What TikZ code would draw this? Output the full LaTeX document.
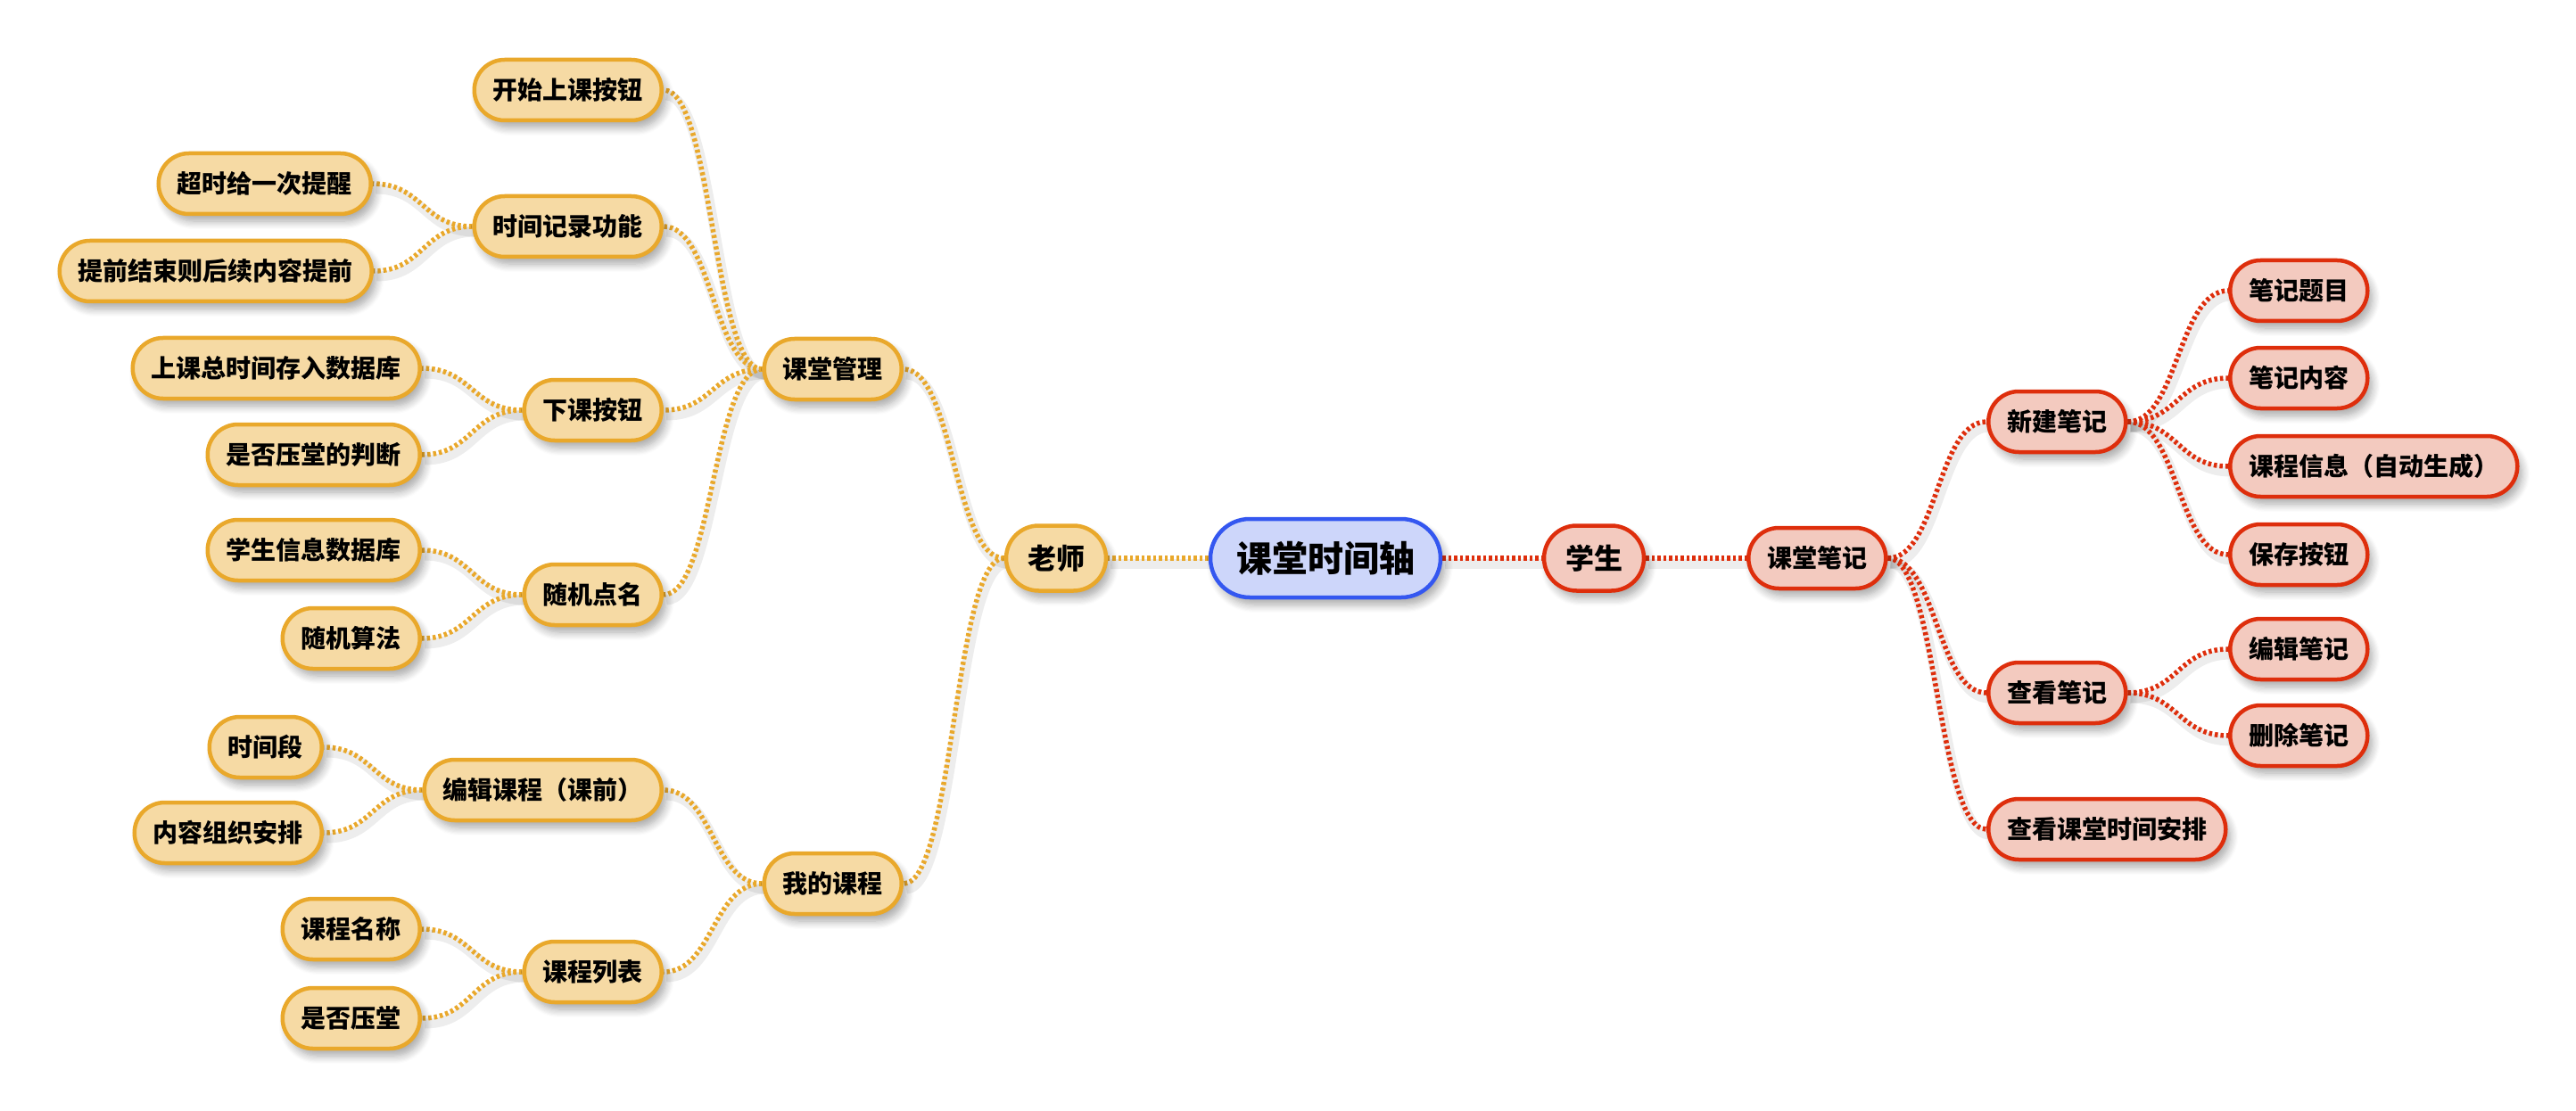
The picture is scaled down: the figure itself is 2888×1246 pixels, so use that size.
\documentclass[tikz,border=0pt]{standalone}
\usepackage{fontspec}
\newfontfamily\cjk{Noto Sans CJK SC}
\usetikzlibrary{calc,shadows.blur}
\definecolor{ob}{HTML}{E9A82B}
\definecolor{of}{HTML}{F6DAA4}
\definecolor{rb}{HTML}{DE2E0C}
\definecolor{rf}{HTML}{F3CABF}
\definecolor{bb}{HTML}{3457F0}
\definecolor{bf}{HTML}{CDD6FA}
\pgfdeclarelayer{background}
\pgfsetlayers{background,main}
\newcommand\conn[3]{%
  \draw[shadowline] let \p1=(#2), \p2=(#3), \p3=($(\p1)!0.5!(\p2)$) in
    ([shift={(3pt,-6pt)}]\p1) .. controls ([shift={(3pt,-6pt)}]\x3,\y1) and ([shift={(3pt,-6pt)}]\x3,\y2) .. ([shift={(3pt,-6pt)}]\p2);
  \draw[#1] let \p1=(#2), \p2=(#3), \p3=($(\p1)!0.5!(\p2)$) in
    (\p1) .. controls (\x3,\y1) and (\x3,\y2) .. (\p2);}
\begin{document}
\begin{tikzpicture}[x=1pt,y=-1pt,
  base/.style={line width=4.5pt, inner ysep=0pt,
    blur shadow={shadow xshift=5pt, shadow yshift=-8pt, shadow blur steps=8, shadow blur radius=9pt, shadow opacity=35}},
  nbox/.style={base, rounded corners=34pt, minimum height=68pt, inner xsep=21pt,
    font=\cjk\bfseries\fontsize{28}{30}\selectfont},
  obox/.style={nbox, draw=ob, fill=of},
  rbox/.style={nbox, draw=rb, fill=rf},
  lone/.style={base, rounded corners=36.5pt, minimum height=73pt, inner xsep=24pt,
    font=\cjk\bfseries\fontsize{32}{34}\selectfont},
  rootbox/.style={base, draw=bb, fill=bf, rounded corners=44pt, minimum height=88pt, inner xsep=29pt,
    font=\cjk\bfseries\fontsize{40}{42}\selectfont},
  oline/.style={draw=ob, line width=5.5pt, dash pattern=on 3.5pt off 3pt},
  rline/.style={draw=rb, line width=5.5pt, dash pattern=on 3.5pt off 3pt},
  shadowline/.style={draw=black, opacity=0.07, line width=11pt},
]
\useasboundingbox (0,0) rectangle (2888,1246);
% centre
\node[rootbox] (root) at (1486,626) {课堂时间轴};
\node[lone, draw=ob, fill=of] (ls) at (1184,626) {老师};
\node[lone, draw=rb, fill=rf] (xs) at (1787,626) {学生};
% right side
\node[rbox, anchor=west] (ktbj) at (1958,626) {课堂笔记};
\node[rbox, anchor=west] (xjbj) at (2227,473) {新建笔记};
\node[rbox, anchor=west] (ckbj) at (2227,777) {查看笔记};
\node[rbox, anchor=west] (cksj) at (2227,930) {查看课堂时间安排};
\node[rbox, anchor=west] (bjtm) at (2498,326) {笔记题目};
\node[rbox, anchor=west] (bjnr) at (2498,424) {笔记内容};
\node[rbox, anchor=west] (kcxx) at (2498,523) {课程信息（自动生成）};
\node[rbox, anchor=west] (bcan) at (2498,622) {保存按钮};
\node[rbox, anchor=west] (bjbj) at (2498,728) {编辑笔记};
\node[rbox, anchor=west] (scbj) at (2498,825) {删除笔记};
% left side
\node[obox, anchor=east] (ktgl) at (1013,414) {课堂管理};
\node[obox, anchor=east] (wdkc) at (1013,991) {我的课程};
\node[obox, anchor=east] (ksan) at (744,101) {开始上课按钮};
\node[obox, anchor=east] (sjjl) at (744,254) {时间记录功能};
\node[obox, anchor=east] (xkan) at (744,460) {下课按钮};
\node[obox, anchor=east] (sjdm) at (744,667) {随机点名};
\node[obox, anchor=east] (bjkc) at (744,886) {编辑课程（课前）};
\node[obox, anchor=east] (kclb) at (744,1090) {课程列表};
\node[obox, anchor=east] (cstx) at (418,206) {超时给一次提醒};
\node[obox, anchor=east] (tqjs) at (419,304) {提前结束则后续内容提前};
\node[obox, anchor=east] (sksj) at (473,413) {上课总时间存入数据库};
\node[obox, anchor=east] (sfyt) at (473,510) {是否压堂的判断};
\node[obox, anchor=east] (xsxx) at (473,617) {学生信息数据库};
\node[obox, anchor=east] (sjsf) at (473,716) {随机算法};
\node[obox, anchor=east] (sjd) at (363,838) {时间段};
\node[obox, anchor=east] (nrzz) at (363,934) {内容组织安排};
\node[obox, anchor=east] (kcmc) at (473,1042) {课程名称};
\node[obox, anchor=east] (sfy) at (473,1142) {是否压堂};
\begin{pgfonlayer}{background}
\conn{oline}{root.west}{ls.east}
\conn{rline}{root.east}{xs.west}
\conn{rline}{xs.east}{ktbj.west}
\conn{rline}{ktbj.east}{xjbj.west}
\conn{rline}{ktbj.east}{ckbj.west}
\conn{rline}{ktbj.east}{cksj.west}
\conn{rline}{xjbj.east}{bjtm.west}
\conn{rline}{xjbj.east}{bjnr.west}
\conn{rline}{xjbj.east}{kcxx.west}
\conn{rline}{xjbj.east}{bcan.west}
\conn{rline}{ckbj.east}{bjbj.west}
\conn{rline}{ckbj.east}{scbj.west}
\conn{oline}{ls.west}{ktgl.east}
\conn{oline}{ls.west}{wdkc.east}
\conn{oline}{ktgl.west}{ksan.east}
\conn{oline}{ktgl.west}{sjjl.east}
\conn{oline}{ktgl.west}{xkan.east}
\conn{oline}{ktgl.west}{sjdm.east}
\conn{oline}{wdkc.west}{bjkc.east}
\conn{oline}{wdkc.west}{kclb.east}
\conn{oline}{sjjl.west}{cstx.east}
\conn{oline}{sjjl.west}{tqjs.east}
\conn{oline}{xkan.west}{sksj.east}
\conn{oline}{xkan.west}{sfyt.east}
\conn{oline}{sjdm.west}{xsxx.east}
\conn{oline}{sjdm.west}{sjsf.east}
\conn{oline}{bjkc.west}{sjd.east}
\conn{oline}{bjkc.west}{nrzz.east}
\conn{oline}{kclb.west}{kcmc.east}
\conn{oline}{kclb.west}{sfy.east}
\end{pgfonlayer}
\end{tikzpicture}
\end{document}
